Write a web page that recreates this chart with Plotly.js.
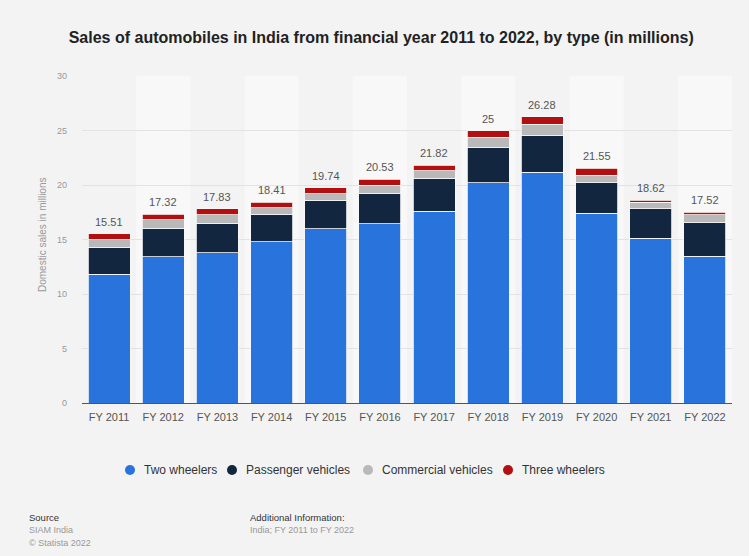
<!DOCTYPE html>
<html>
<head>
<meta charset="utf-8">
<script src="https://cdn.plot.ly/plotly-3.0.1.min.js"></script>
<style>html,body{margin:0;padding:0;background:#f3f3f3;}#chart{width:749px;height:556px;}</style>
</head>
<body>
<div id="chart"></div>
<script>
const categories = ["FY 2011","FY 2012","FY 2013","FY 2014","FY 2015","FY 2016","FY 2017","FY 2018","FY 2019","FY 2020","FY 2021","FY 2022"];
const twoWheelers = [11.79, 13.41, 13.80, 14.81, 16.00, 16.46, 17.59, 20.19, 21.18, 17.42, 15.12, 13.47];
const passengerVehicles = [2.51, 2.62, 2.67, 2.50, 2.60, 2.79, 3.05, 3.29, 3.38, 2.77, 2.71, 3.07];
const commercialVehicles = [0.68, 0.78, 0.82, 0.62, 0.61, 0.74, 0.67, 0.88, 1.01, 0.72, 0.57, 0.72];
const threeWheelers = [0.53, 0.51, 0.54, 0.48, 0.53, 0.54, 0.51, 0.64, 0.71, 0.64, 0.22, 0.26];
const totals = [15.51, 17.32, 17.83, 18.41, 19.74, 20.53, 21.82, 25, 26.28, 21.55, 18.62, 17.52];
const totalLabels = ["15.51","17.32","17.83","18.41","19.74","20.53","21.82","25","26.28","21.55","18.62","17.52"];

const seriesNames = ["Two wheelers","Passenger vehicles","Commercial vehicles","Three wheelers"];
const seriesValues = [twoWheelers, passengerVehicles, commercialVehicles, threeWheelers];
const seriesColors = ["#2874dc","#12263f","#b9b9b9","#b30f10"];

const FONT = 'Liberation Sans, Arial, sans-serif';
const traces = [];
seriesNames.forEach((n, i) => {
  traces.push({
    type: 'bar', name: n, x: categories, y: seriesValues[i],
    marker: {color: seriesColors[i], line: {color: '#f7f7f7', width: 0.8}},
    showlegend: false, hoverinfo: 'x+y+name'
  });
});

// plot area in pixels: left 82, width 650; top 76, height 327
const px = x => (x - 82) / 650;
const py = y => (403 - y) / 327;

const shapes = [];
categories.forEach((c, i) => {
  if (i % 2 === 1) {
    shapes.push({type: 'rect', xref: 'x', yref: 'y', x0: i - 0.5, x1: i + 0.5, y0: 0, y1: 30,
      fillcolor: '#f8f8f8', line: {width: 0}, layer: 'below'});
  }
});

const annotations = [];
// total labels above the bars
categories.forEach((c, i) => {
  annotations.push({text: totalLabels[i], xref: 'x', yref: 'y', x: c, y: totals[i],
    xanchor: 'center', yanchor: 'bottom', yshift: 4, showarrow: false,
    font: {family: FONT, size: 11, color: '#555'}});
});

// manual legend (circle markers + labels)
const legendMarkerX = [130, 232, 368, 508];
const legendY = 470;
seriesNames.forEach((n, i) => {
  shapes.push({type: 'circle', xref: 'paper', yref: 'paper', xsizemode: 'pixel', ysizemode: 'pixel',
    xanchor: px(legendMarkerX[i]), yanchor: py(legendY), x0: -5, x1: 5, y0: -5, y1: 5,
    fillcolor: seriesColors[i], line: {width: 0}});
  annotations.push({text: n, xref: 'paper', yref: 'paper', x: px(legendMarkerX[i] + 12), y: py(legendY),
    xanchor: 'left', yanchor: 'middle', showarrow: false, font: {family: FONT, size: 12, color: '#333'}});
});

annotations.push(
  {text: 'Domestic sales in millions', xref: 'paper', yref: 'paper', x: px(42), y: py(235),
    textangle: -90, showarrow: false, font: {size: 10, color: '#999'}, xanchor: 'center', yanchor: 'middle'},
  {text: 'Source', xref: 'paper', yref: 'paper', x: px(27), y: py(517), xanchor: 'left', yanchor: 'middle',
    showarrow: false, font: {size: 9.5, color: '#333'}},
  {text: 'SIAM India', xref: 'paper', yref: 'paper', x: px(27), y: py(530), xanchor: 'left', yanchor: 'middle',
    showarrow: false, font: {size: 9, color: '#999'}},
  {text: '© Statista 2022', xref: 'paper', yref: 'paper', x: px(27), y: py(543), xanchor: 'left', yanchor: 'middle',
    showarrow: false, font: {size: 9, color: '#999'}},
  {text: 'Additional Information:', xref: 'paper', yref: 'paper', x: px(248), y: py(517), xanchor: 'left', yanchor: 'middle',
    showarrow: false, font: {size: 9.5, color: '#333'}},
  {text: 'India; FY 2011 to FY 2022', xref: 'paper', yref: 'paper', x: px(248), y: py(530), xanchor: 'left', yanchor: 'middle',
    showarrow: false, font: {size: 9, color: '#999'}}
);

const layout = {
  width: 749, height: 556,
  paper_bgcolor: '#f3f3f3', plot_bgcolor: 'rgba(0,0,0,0)',
  margin: {l: 82, r: 17, t: 76, b: 153},
  barmode: 'stack', bargap: 0.225,
  font: {family: FONT},
  showlegend: false,
  title: {text: 'Sales of automobiles in India from financial year 2011 to 2022, by type (in millions)',
    font: {family: FONT, size: 16, color: '#222', weight: 'bold'},
    x: 0.509, xanchor: 'center', y: 0.932, yanchor: 'middle'},
  xaxis: {type: 'category', tickfont: {size: 11, color: '#555'}, showgrid: false,
    showline: true, linecolor: '#555', linewidth: 1.3, ticks: '', ticklabelstandoff: 4, fixedrange: true},
  yaxis: {range: [0, 30], dtick: 5, tickfont: {size: 9, color: '#999'}, gridcolor: '#e3e3e3', gridwidth: 1,
    zeroline: false, showline: false, ticks: '', ticklabelstandoff: 14, fixedrange: true},
  shapes: shapes,
  annotations: annotations
};

Plotly.newPlot('chart', traces, layout, {displayModeBar: false});
</script>
</body>
</html>
